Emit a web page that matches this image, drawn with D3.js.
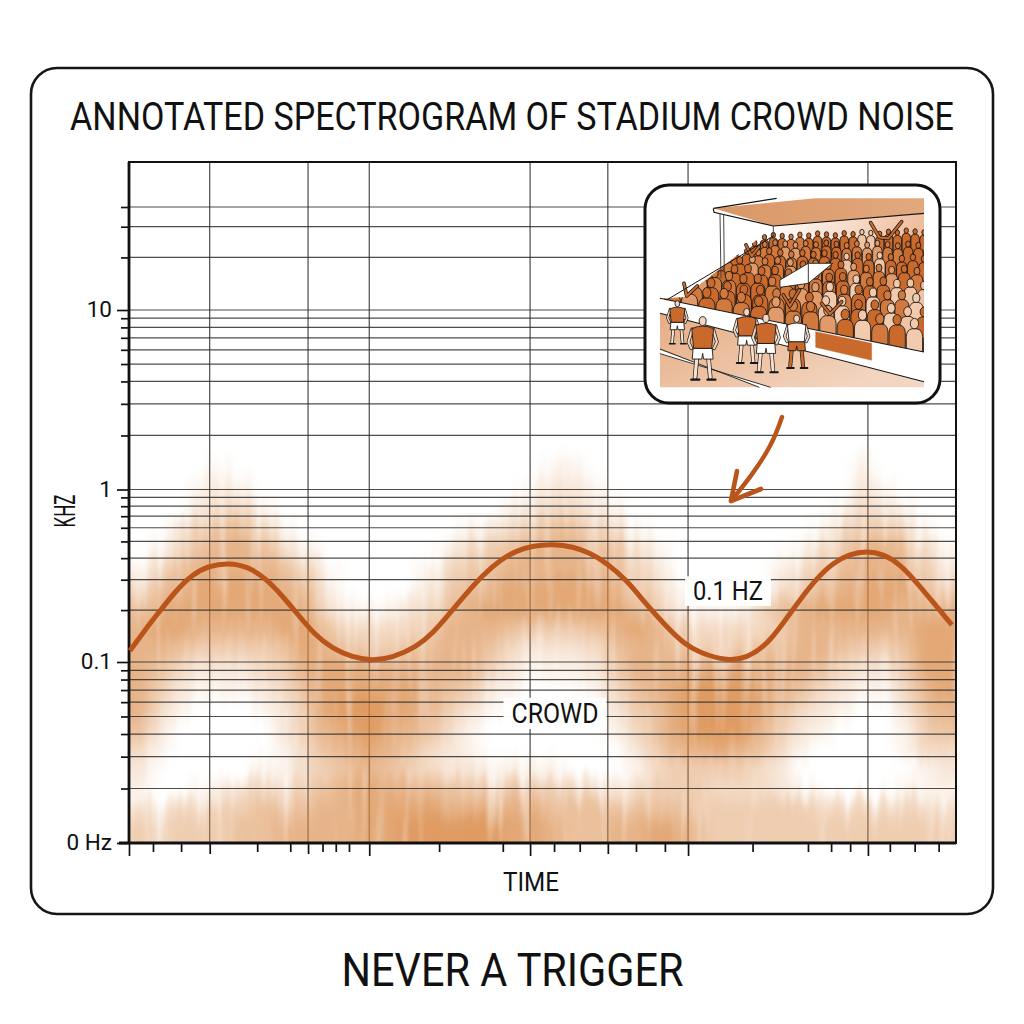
<!DOCTYPE html>
<html><head><meta charset="utf-8">
<style>html,body{margin:0;padding:0;background:#fff}svg{display:block}text{font-family:Roboto,sans-serif;fill:#111}</style>
<script src="https://cdn.jsdelivr.net/npm/d3@7"></script></head>
<body><svg id="c" width="1024" height="1024" viewBox="0 0 1024 1024"></svg>
<script>
// ---- data ----
const titleText="ANNOTATED SPECTROGRAM OF STADIUM CROWD NOISE";
const captionText="NEVER A TRIGGER";
const yMajor=[0.01,0.1,1,10];
const yMajorLabels=["0 Hz","0.1","1","10"];
const yMinor=[0.02,0.03,0.04,0.05,0.06,0.07,0.08,0.09,0.2,0.3,0.4,0.5,0.6,0.7,0.8,0.9,2,3,4,5,6,7,8,9,20,30,40];
const xGrid=[9.76,21.65,29.05,48.5,57.9,67.6,89.35];
const xMajor=[0,29.05,48.5,67.6,89.35];
const xMid=[9.76,21.65,57.9];
const xMinor=[2.9,6.3,15.5,19.5,23.4,25,26.6,37.5,45.2,51.4,54.5,61.3,64.8,75.4,82.1,84.9,87.2,92,95,97.9];
const lineT=[.12,1.93,3.54,5.56,7.58,9.59,12,14.43,16.45,18.46,20.47,22.49,24.5,26.93,29.35,31.77,34.8,36.76,38.8,40.83,42.8,44.86,46.88,48.85,51.27,53.69,55.74,57.76,60.18,62.6,65,66.99,69.05,72.4,74.7,77.1,79.1,81.1,83.2,85.1,87.2,89.2,91.2,93.2,95.2,97.2,99.5];
const lineF=[.1163,.1533,.192,.2556,.3194,.36,.3763,.3568,.3069,.2446,.1873,.1434,.1205,.1069,.1017,.1055,.1226,.1472,.192,.2512,.3194,.3903,.4418,.4723,.4831,.466,.4285,.375,.2988,.214,.1602,.1288,.1127,.1013,.1054,.1255,.168,.229,.307,.375,.423,.44,.423,.37,.291,.223,.164];
// spectrogram energy, 0-9, one string per frequency band, one digit per 2.5 time units
const bandEdges=[1.5,1.15,.87,.66,.51,.39,.3,.23,.175,.134,.103,.08,.062,.048,.037,.029,.022,.017,.0135,.0105,.006];
const energy=[
"0000100000000000000011000000000000010000",
"0001210000000000000122100000000000021000",
"0002331000000000001233210000000000132100",
"0024553100000000123455431000000001344310",
"0135665310000001345666553100000013466531",
"1356666531000013456666654200000134566642",
"3567777652000024567777765310000245677754",
"5677777763111235677777776421113567777666",
"6776666775333346665444567643333466666677",
"6654444576544556653222356654445566544577",
"6532223467766666642111246666776665322477",
"6421112357777765421000135678887653211367",
"6310001247888764210000024578887532100256",
"5200000246787653100000013578886421000145",
"3100000135676532100000002466765310000133",
"2000001134565432211110001344443200000012",
"1001233345676655444443223444333210000111",
"3233445556677776666655555554444443333333",
"4344455666677888887765566775444444444444",
"4344455666677888887765566775444444444444"
];
const crowdLabel="CROWD", hzLabel="0.1 HZ", xLabel="TIME", yLabel="KHZ";

// ---- scales ----
const svg=d3.select("#c");
const L=129,R=956,T=162,B=843;
const x=d3.scaleLinear().domain([0,100]).range([L,R]);
const y=d3.scaleLog().domain([0.01,0.1,1,10,30,40,68]).range([B,662,489.5,310,226.7,207,T]);

const defs=svg.append("defs");
const f=defs.append("filter").attr("id","streak").attr("filterUnits","userSpaceOnUse")
 .attr("x",90).attr("y",420).attr("width",910).attr("height",470).attr("color-interpolation-filters","sRGB");
f.append("feGaussianBlur").attr("in","SourceGraphic").attr("stdDeviation","7 7").attr("result","b");
f.append("feTurbulence").attr("type","fractalNoise").attr("baseFrequency","0.11 0.008").attr("numOctaves",2).attr("seed",11).attr("result","n");
f.append("feColorMatrix").attr("in","n").attr("type","matrix").attr("values","1.6 0 0 0 -0.3  0 0 0 0 0.5  0 0 0 0 0.5  0 0 0 0 1").attr("result","d");
f.append("feDisplacementMap").attr("in","b").attr("in2","d").attr("scale",20).attr("xChannelSelector","G").attr("yChannelSelector","R").attr("result","m");
f.append("feColorMatrix").attr("in","n").attr("type","matrix").attr("values","0 0 0 0 0 0 0 0 0 0 0 0 0 0 0 1.0 0 0 0 0.55").attr("result","a");
f.append("feComposite").attr("in","m").attr("in2","a").attr("operator","in").attr("result","t");
f.append("feGaussianBlur").attr("in","t").attr("stdDeviation","1 1.6");
defs.append("clipPath").attr("id","plot").append("rect").attr("x",L).attr("y",T).attr("width",R-L).attr("height",B-T);

// frame
svg.append("rect").attr("x",31).attr("y",68).attr("width",962).attr("height",846).attr("rx",26)
 .attr("fill","#fff").attr("stroke","#151515").attr("stroke-width",2.6);

// vertical grid below the energy wash
svg.append("g").selectAll("line").data(xGrid).join("line")
 .attr("x1",d=>x(d)).attr("x2",d=>x(d)).attr("y1",T).attr("y2",B).attr("stroke","#3a3a3a").attr("stroke-width",1.1);

// spectrogram cells
const heat=svg.append("g").attr("clip-path","url(#plot)").append("g").attr("filter","url(#streak)");
energy.forEach((row,r)=>{
 heat.append("g").selectAll("rect").data(row.split("").map(Number)).join("rect")
  .attr("shape-rendering","crispEdges")
  .attr("x",(d,i)=>x(i===0?-5:i*2.5))
  .attr("width",(d,i)=>x(i===39?106:(i+1)*2.5)-x(i===0?-5:i*2.5))
  .attr("y",y(bandEdges[r])).attr("height",y(bandEdges[r+1])-y(bandEdges[r]))
  .attr("fill","#d8853f").attr("fill-opacity",d=>d/9.8);
});

// horizontal grid over it
svg.append("g").selectAll("line").data([...yMajor.slice(1),...yMinor]).join("line")
 .attr("x1",L).attr("x2",R).attr("y1",d=>y(d)).attr("y2",d=>y(d)).attr("stroke","#2e2e2e").attr("stroke-opacity",.85).attr("stroke-width",1.2);

// axes
const tickStyle=g=>{g.select(".domain").remove();g.selectAll("line").attr("stroke","#111").attr("stroke-width",1.7);};
svg.append("g").attr("transform",`translate(${L},0)`).call(d3.axisLeft(y).tickValues(yMinor).tickSize(8).tickFormat("")).call(tickStyle);
const yAx=svg.append("g").attr("transform",`translate(${L},0)`)
 .call(d3.axisLeft(y).tickValues(yMajor).tickSize(12).tickPadding(5).tickFormat((d,i)=>yMajorLabels[i])).call(tickStyle);
yAx.selectAll("text").attr("font-size",22.5).attr("font-family","Roboto").attr("fill","#111").attr("dy",".30em");
svg.append("g").attr("transform",`translate(0,${B})`).call(d3.axisBottom(x).tickValues(xMinor).tickSize(9).tickFormat("")).call(tickStyle);
svg.append("g").attr("transform",`translate(0,${B})`).call(d3.axisBottom(x).tickValues(xMid).tickSize(11).tickFormat("")).call(tickStyle);
svg.append("g").attr("transform",`translate(0,${B})`).call(d3.axisBottom(x).tickValues(xMajor).tickSize(13).tickFormat("")).call(tickStyle);
svg.append("rect").attr("x",L).attr("y",T).attr("width",R-L).attr("height",B-T).attr("fill","none").attr("stroke","#111").attr("stroke-width",2);
svg.append("line").attr("x1",L).attr("x2",L).attr("y1",T).attr("y2",B).attr("stroke","#111").attr("stroke-width",2.8);
svg.append("line").attr("x1",L-10).attr("x2",R).attr("y1",B).attr("y2",B).attr("stroke","#111").attr("stroke-width",3);

// condensed text: squeeze horizontally to the measured width of the reference
function fitText(parent,txt,cx,base,size,len,rot){
 const t=parent.append("text").attr("text-anchor","middle").attr("font-size",size).text(txt);
 const s=len/t.node().getComputedTextLength();
 t.attr("transform",`translate(${cx},${base})${rot?` rotate(${rot})`:""} scale(${s},1)`);
 return t;
}
function label(txt,cx,base,size,len){
 const g=svg.append("g"), h=size*.711;
 g.append("rect").attr("x",cx-len/2-8).attr("y",base-h-6).attr("width",len+16).attr("height",h+12).attr("fill","#fff").attr("fill-opacity",.97);
 fitText(g,txt,cx,base,size,len);
}
label(crowdLabel,555,723,27,87);
label(hzLabel,728,600,25,70);

// line
svg.append("path").datum(lineT.map((t,i)=>[t,lineF[i]]))
 .attr("d",d3.line().x(d=>x(d[0])).y(d=>y(d[1])).curve(d3.curveBasis))
 .attr("fill","none").attr("stroke","#b9541a").attr("stroke-width",5).attr("stroke-linecap","butt");

// texts
fitText(svg,titleText,512,130,38.5,884);
fitText(svg,captionText,512.5,986,47,342);
fitText(svg,xLabel,531,891,26,56);
fitText(svg,yLabel,75,511,29,33,-90);

// arrow
const arrowLine=d3.line().curve(d3.curveBasis);
const arrow=svg.append("g").attr("fill","none").attr("stroke","#b9541a").attr("stroke-linecap","round").attr("stroke-linejoin","round");
arrow.append("path").attr("d",arrowLine([[782,417],[772,445],[752,475],[731,501]])).attr("stroke-width",4.4);
arrow.append("path").attr("d","M737,471 L731,501 L761,489").attr("stroke-width",4.6);

// ---- inset illustration ----
svg.append("rect").attr("x",645).attr("y",185).attr("width",295).attr("height",218).attr("rx",24)
 .attr("fill","#fff").attr("stroke","#111").attr("stroke-width",3);
const ins=svg.append("g").attr("transform","translate(640,180) scale(0.3333)");
const lg=(id,a,b,x2,y2)=>{const g=defs.append("linearGradient").attr("id",id).attr("x1",0).attr("y1",0).attr("x2",x2).attr("y2",y2);
 g.append("stop").attr("offset",0).attr("stop-color",a);g.append("stop").attr("offset",1).attr("stop-color",b);};
lg("gGround","#e6ad84","#f3d6c2",1,.6);
lg("gRoof","#d99766","#e2a87e",1,0);
lg("gBack","#fff","#eebd9b",1,.1);
defs.append("clipPath").attr("id","stand").append("polygon").attr("points","132,352 400,140 852,100 852,516 60,356");
const poly=(pts,fill,stroke,sw)=>ins.append("polygon").attr("points",pts).attr("fill",fill).attr("stroke",stroke||"none").attr("stroke-width",sw||0);
// ground
poly("60,400 852,606 852,622 60,622","url(#gGround)");
// back wall
poly("400,138 852,100 852,200 400,200","url(#gBack)");
// crowd rows, back to front
const crowdG=ins.append("g").attr("clip-path","url(#stand)");
const shades=["#c9692c","#d27a3e","#c9692c","#e29a69","#c9692c","#d27a3e","#f0c4a4","#c9692c"];
const nRows=8;
for(let r=0;r<nRows;r++){
 const s=r/(nRows-1);
 const xl=400+(125-400)*s, yl=165+(325-165)*s, xr=852, yr=150+(435-150)*s;
 const w=27+s*25;
 const n=Math.round((xr-xl)/(w*.98));
 for(let i=-1;i<=n+1;i++){
  const u=i/n;
  const px=xl+(xr-xl)*u+(r%2)*w*.45, py=yl+(yr-yl)*u+((i*7+r*3+50)%5)*1.8;
  const k=Math.abs(i*i*3+r*5+i)%8;
  const rightFront=(u>.5&&s>.45);
  const col=rightFront&&(i+r*2+9)%3===0?"#f2cbae":(k===6&&u<.5?"#d27a3e":shades[k]);
  const g=crowdG.append("g").attr("stroke","#151515").attr("stroke-width",2.6).attr("fill",col);
  g.append("path").attr("d",`M${px-w*.47},${py+w*2.4}L${px-w*.47},${py+w*.75}Q${px-w*.45},${py+w*.36} ${px-w*.14},${py+w*.3}L${px+w*.14},${py+w*.3}Q${px+w*.45},${py+w*.36} ${px+w*.47},${py+w*.75}L${px+w*.47},${py+w*2.4}Z`);
  g.append("ellipse").attr("cx",px).attr("cy",py).attr("rx",w*.24).attr("ry",w*.3);
 }
}
// raised arms
[["M692,128 L718,172 L745,175 L785,125"],["M318,195 L335,228 L358,200"],["M132,310 L140,348 L172,318"],["M430,345 L450,378 L478,330"],["M545,370 L570,402 L605,365"]].forEach(d=>{
 ins.append("path").attr("d",d[0]).attr("fill","none").attr("stroke","#151515").attr("stroke-width",11).attr("stroke-linecap","round").attr("stroke-linejoin","round");
 ins.append("path").attr("d",d[0]).attr("fill","none").attr("stroke","#c9692c").attr("stroke-width",6.5).attr("stroke-linecap","round").attr("stroke-linejoin","round");
});
// white gap in crowd
poly("420,300 505,250 578,250 505,310 420,322","#fff","#151515",2.5);
ins.append("line").attr("x1",505).attr("y1",250).attr("x2",505).attr("y2",310).attr("stroke","#151515").attr("stroke-width",2.5);
// wall strip
poly("60,355 852,516 852,605 60,400","#fff");
ins.append("line").attr("x1",60).attr("y1",355).attr("x2",852).attr("y2",516).attr("stroke","#151515").attr("stroke-width",3.2);
ins.append("line").attr("x1",60).attr("y1",400).attr("x2",852).attr("y2",605).attr("stroke","#151515").attr("stroke-width",3.2);
poly("527,455 695,490 695,541 527,502","#c9692c","#b9541a",1);
// pitch line
poly("60,510 360,622 392,622 60,522","#fff");
ins.append("path").attr("d","M60,507 L358,622 M60,521 L392,622").attr("stroke","#151515").attr("stroke-width",2.6);
// roof
poly("220,85 525,55 852,55 852,100 400,138","url(#gRoof)");
ins.append("path").attr("d","M220,85 L410,55 M220,85 L222,97 L400,138 L852,100").attr("fill","none").attr("stroke","#151515").attr("stroke-width",3.6);
ins.append("path").attr("d","M240,100 L243,295 M251,103 L253,285 M400,138 L400,172").attr("fill","none").attr("stroke","#444").attr("stroke-width",3);
ins.append("path").attr("d","M80,360 L400,168").attr("fill","none").attr("stroke","#151515").attr("stroke-width",3);
// players
function player(cx,foot,h,kit){
 const g=ins.append("g").attr("stroke","#151515").attr("stroke-linejoin","round").attr("stroke-width",2.6);
 const Y=p=>foot-h*(1-p), W=h*.15;
 const limb=(d,c,wd)=>{g.append("path").attr("d",d).attr("fill","none").attr("stroke","#151515").attr("stroke-width",wd+4).attr("stroke-linecap","round");
  g.append("path").attr("d",d).attr("fill","none").attr("stroke",c).attr("stroke-width",wd).attr("stroke-linecap","round");};
 limb(`M${cx-W*.6},${Y(.62)}L${cx-W*.8},${Y(.96)}`,kit.leg,h*.05);
 limb(`M${cx+W*.6},${Y(.62)}L${cx+W*.8},${Y(.96)}`,kit.leg,h*.05);
 g.append("path").attr("d",`M${cx-W*1.2},${foot-1}h${W*.85} M${cx+W*.5},${foot-1}h${W*.85}`).attr("stroke-width",h*.035).attr("stroke-linecap","round");
 g.append("path").attr("d",`M${cx-W},${Y(.5)}L${cx+W},${Y(.5)}L${cx+W*1.1},${Y(.67)}L${cx+W*.1},${Y(.67)}L${cx},${Y(.58)}L${cx-W*.1},${Y(.67)}L${cx-W*1.1},${Y(.67)}Z`).attr("fill",kit.shorts);
 limb(`M${cx-W*1.1},${Y(.2)}L${cx-W*1.5},${Y(.4)}L${cx-W*1.2},${Y(.5)}`,"#f3d6c2",h*.035);
 limb(`M${cx+W*1.1},${Y(.2)}L${cx+W*1.5},${Y(.4)}L${cx+W*1.2},${Y(.5)}`,"#f3d6c2",h*.035);
 g.append("path").attr("d",`M${cx-W*1.15},${Y(.19)}Q${cx},${Y(.11)} ${cx+W*1.15},${Y(.19)}L${cx+W*.95},${Y(.5)}L${cx-W*.95},${Y(.5)}Z`).attr("fill",kit.shirt);
 g.append("ellipse").attr("cx",cx).attr("cy",Y(.07)).attr("rx",h*.055).attr("ry",h*.07).attr("fill",kit.head);
}
const kitA={shirt:"#c9692c",shorts:"#fff",leg:"#f7e0cf",head:"#f3d6c2"};
player(112,492,130,kitA);
player(188,600,190,kitA);
player(320,550,165,kitA);
player(378,578,175,kitA);
player(470,565,160,{shirt:"#fff",shorts:"#c9692c",leg:"#c9692c",head:"#f3d6c2"});
</script></body></html>
